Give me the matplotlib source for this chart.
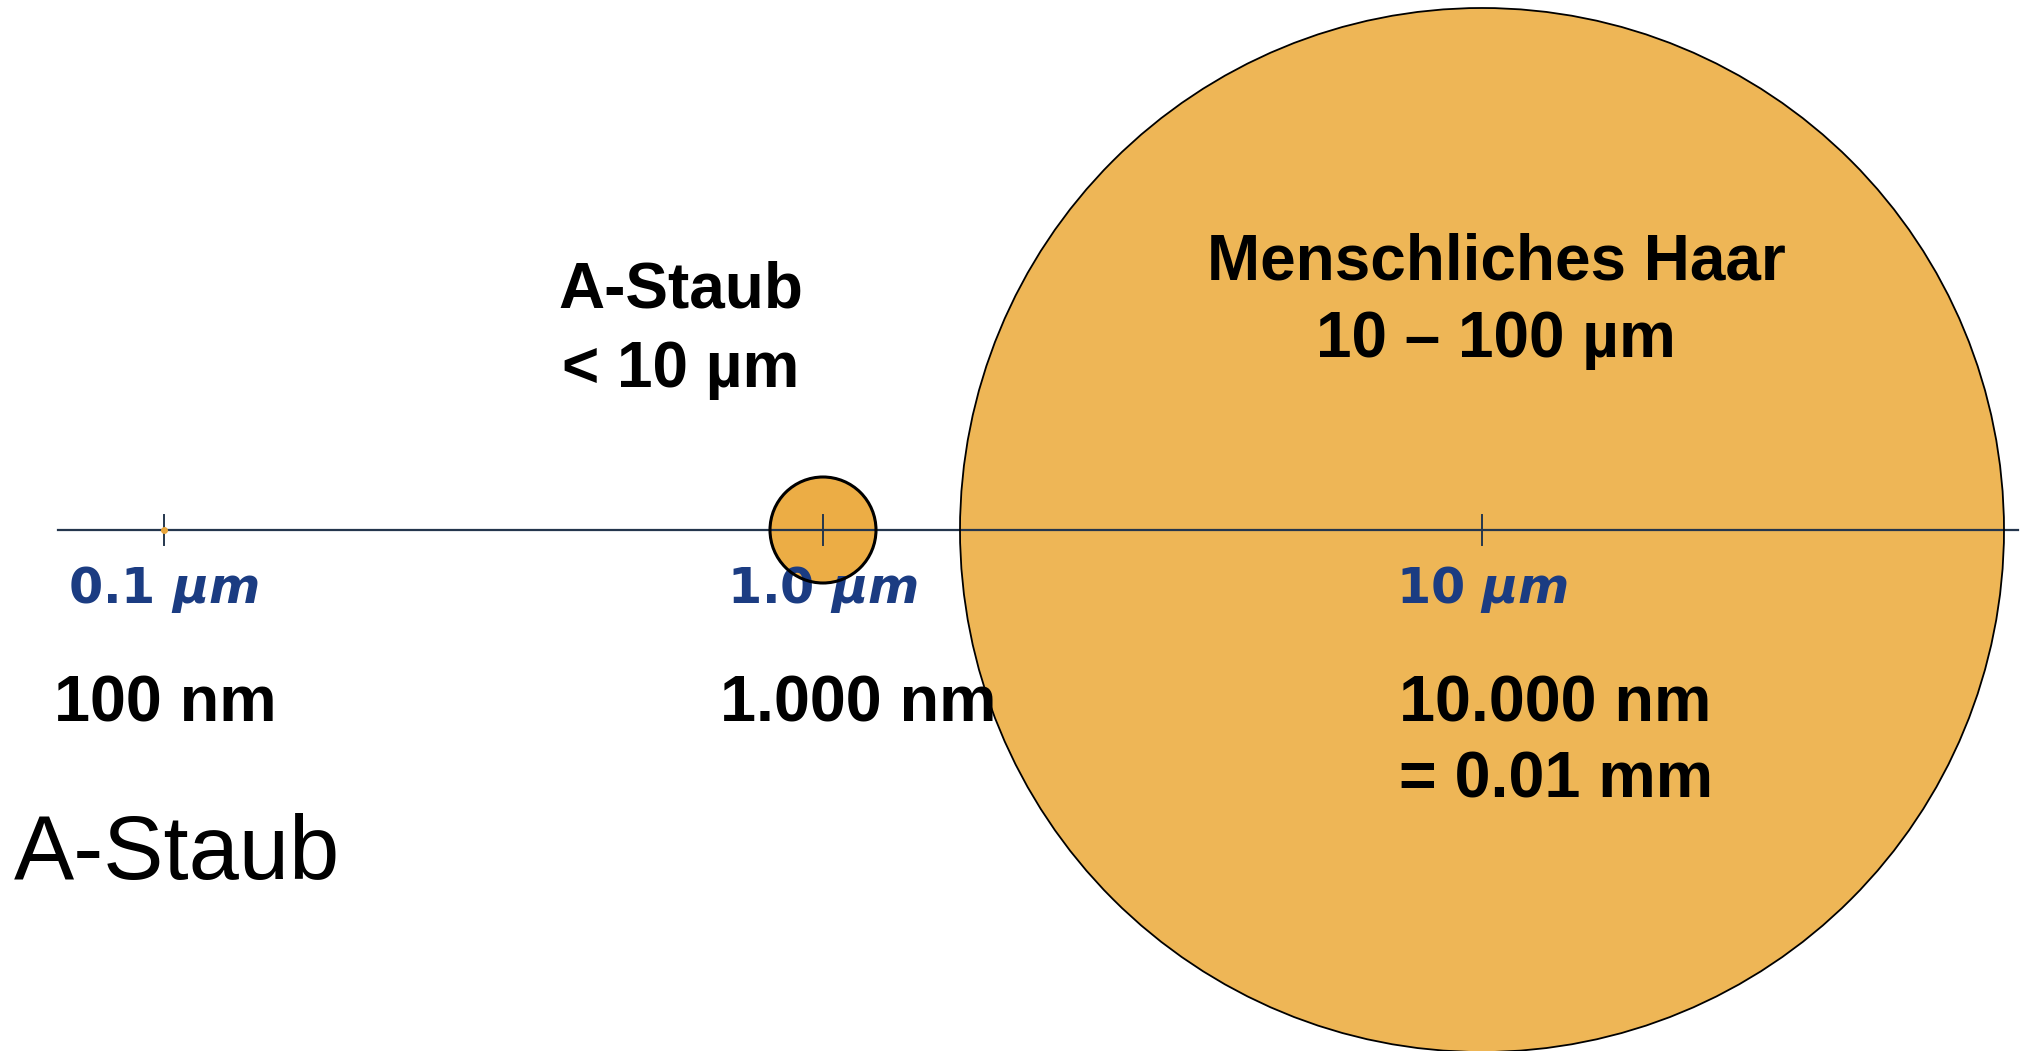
import numpy as np
import matplotlib
matplotlib.use("Agg")
import matplotlib.pyplot as plt
from matplotlib.patches import Circle

plt.rcParams['mathtext.fontset'] = 'custom'
plt.rcParams['mathtext.it'] = 'DejaVu Sans:italic:bold'
plt.rcParams['mathtext.rm'] = 'DejaVu Sans:bold'

# ---- data ----
tick_values_um = [0.1, 1.0, 10.0]
tick_numbers = ["0.1", "1.0", "10"]
nm_labels = [["100 nm"], ["1.000 nm"], ["10.000 nm", "= 0.01 mm"]]
particle_names = [["A-Staub", "< 10 µm"], ["Menschliches Haar", "10 – 100 µm"]]
particle_centers_um = [1.0, 10.0]
title_text = "A-Staub"

# ---- layout (pixels of a 2022x1051 canvas) ----
W, H = 2022, 1051
dec_px = 659.0          # pixels per decade
x0_px = 164.0           # pixel of 0.1 um
axis_y_px = 530.0

fig = plt.figure(figsize=(W / 100, H / 100), dpi=100)
ax = fig.add_axes([0, 0, 1, 1])
xmin = np.log10(0.1) - x0_px / dec_px
xmax = xmin + W / dec_px
ymin = -(H - axis_y_px) / dec_px
ymax = axis_y_px / dec_px
ax.set_xlim(xmin, xmax)
ax.set_ylim(ymin, ymax)
ax.axis('off')

def px(p):
    return p / dec_px

def ypix(p):
    # pixel row from top -> data y
    return (axis_y_px - p) / dec_px

def xpix(p):
    return xmin + p / dec_px

orange_big = '#EEB656'
orange_small = '#ECAD45'
navy = '#24364d'
blue = '#1b3c82'

# circles
radii_px = [53, 522]
fills = [orange_small, orange_big]
outline_lw = [2.2, 1.3]
for c, r, fc, lw in zip(particle_centers_um, radii_px, fills, outline_lw):
    cx = np.log10(c)
    ax.add_patch(Circle((cx, 0), px(r), facecolor=fc, edgecolor='none', zorder=1))
    ax.add_patch(Circle((cx, 0), px(r), facecolor='none', edgecolor='black', lw=lw, zorder=6))

# axis line
ax.plot([xpix(58), xmax - px(4)], [0, 0], color=navy, lw=1.6, zorder=3)
# ticks
for v in tick_values_um:
    lx = np.log10(v)
    ax.plot([lx, lx], [-px(15), px(15)], color=navy, lw=1.4, zorder=3)
ax.plot([np.log10(tick_values_um[0])], [0], 'o', color='#E8A63C', ms=4, zorder=4)

# blue tick labels
for v, t in zip(tick_values_um, tick_numbers):
    ax.text(np.log10(v), ypix(603), t + r" $\mathit{µm}$", ha='center', va='baseline',
            color=blue, fontsize=35.5, fontfamily='DejaVu Sans', fontweight='bold', zorder=5)

# nm labels
nm_left_px = [54, 720, 1399]
nm_baselines = [721, 797]
for lines, lp in zip(nm_labels, nm_left_px):
    for line, bl in zip(lines, nm_baselines):
        ax.text(xpix(lp), ypix(bl), line, ha='left', va='baseline', color='black',
                fontsize=46.5, fontfamily='Liberation Sans', fontweight='bold', zorder=7)

# particle titles
name_cx_px = [681, 1496]
name_baselines = [[308, 387], [280, 357]]
for lines, cxp, bls in zip(particle_names, name_cx_px, name_baselines):
    for line, bl in zip(lines, bls):
        ax.text(xpix(cxp), ypix(bl), line, ha='center', va='baseline',
                color='black', fontsize=46, fontfamily='Liberation Sans',
                fontweight='bold', zorder=7)

# big plain title bottom-left
ax.text(xpix(14), ypix(879), title_text, ha='left', va='baseline',
        color='black', fontsize=65, fontfamily='Liberation Sans', zorder=7)

fig.savefig('out.png', dpi=100, facecolor='white')
